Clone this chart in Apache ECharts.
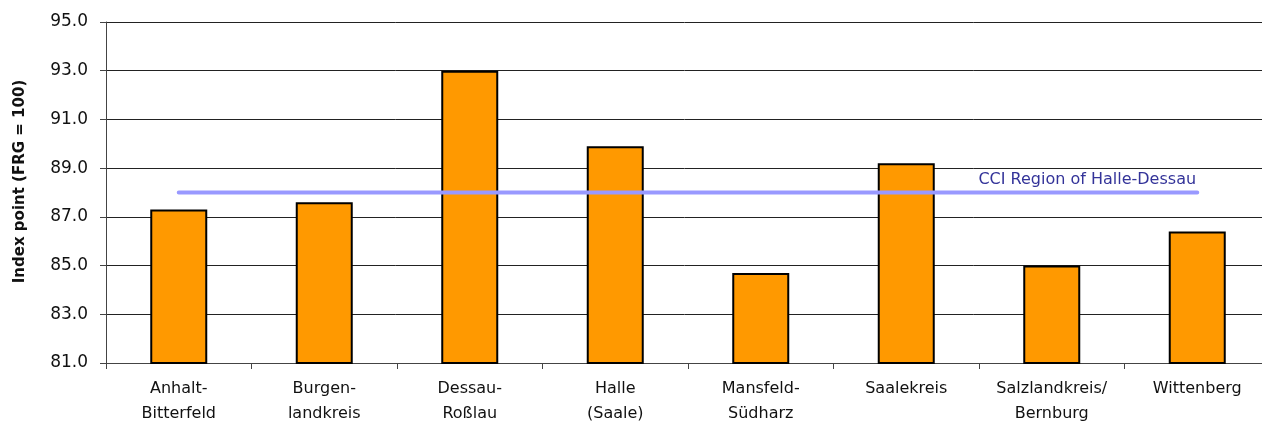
<!DOCTYPE html>
<html>
<head>
<meta charset="utf-8">
<script src="https://cdn.jsdelivr.net/npm/echarts@6/dist/echarts.min.js"></script>
<style>
  html, body { margin: 0; padding: 0; background: #fff; }
  #chart { width: 1262px; height: 423px; }
</style>
</head>
<body>
<div id="chart"></div>
<script>
// districts
var districts = ['Anhalt-\nBitterfeld', 'Burgen-\nlandkreis', 'Dessau-\nRoßlau', 'Halle\n(Saale)',
  'Mansfeld-\nSüdharz', 'Saalekreis', 'Salzlandkreis/\nBernburg', 'Wittenberg'];
// index points
var indexValues = [87.3, 87.6, 93.0, 89.9, 84.7, 89.2, 85.0, 86.4];
// CCI region average
var regionValues = [88, 88, 88, 88, 88, 88, 88, 88];
var regionName = 'CCI Region of Halle-Dessau';

var font = 'DejaVu Sans';
var myChart = echarts.init(document.getElementById('chart'));

var lineData = regionValues.map(function (v, i) {
  if (i === regionValues.length - 1) {
    return {
      value: v,
      label: {
        show: true,
        position: 'top',
        formatter: regionName,
        offset: [-110, 0],
        color: '#333399',
        fontFamily: font,
        fontSize: 16
      }
    };
  }
  return v;
});

var option = {
  animation: false,
  backgroundColor: '#fff',
  grid: { left: 106, right: -8, top: 22, bottom: 60, outerBoundsMode: 'none', containLabel: false },
  xAxis: {
    type: 'category',
    data: districts,
    axisLine: { lineStyle: { color: '#444', width: 1 } },
    axisTick: { show: true, length: 6, lineStyle: { color: '#444' } },
    axisLabel: {
      color: '#111',
      fontFamily: font,
      fontSize: 16,
      lineHeight: 25,
      margin: 13,
      interval: 0
    }
  },
  yAxis: {
    type: 'value',
    min: 81,
    max: 95,
    interval: 2,
    name: 'Index point (FRG = 100)',
    nameLocation: 'middle',
    nameGap: 78,
    nameTextStyle: {
      color: '#111',
      fontFamily: font,
      fontSize: 15,
      fontWeight: 'bold',
      padding: [0, 0, 0, 22]
    },
    axisLine: { show: true, lineStyle: { color: '#444', width: 1 } },
    axisTick: { show: true, length: 6, lineStyle: { color: '#444' } },
    axisLabel: {
      color: '#111',
      fontFamily: font,
      fontSize: 17,
      margin: 18,
      formatter: function (v) { return v.toFixed(1); }
    },
    splitLine: { lineStyle: { color: '#222', width: 1 } }
  },
  series: [
    {
      type: 'bar',
      data: indexValues,
      barWidth: 57,
      itemStyle: { color: '#ff9900', borderColor: '#000', borderWidth: 2 }
    },
    {
      type: 'line',
      data: lineData,
      showSymbol: true,
      symbol: 'circle',
      symbolSize: 0,
      lineStyle: { color: '#9999ff', width: 4, cap: 'round' },
      z: 5
    }
  ]
};
myChart.setOption(option);
</script>
</body>
</html>
